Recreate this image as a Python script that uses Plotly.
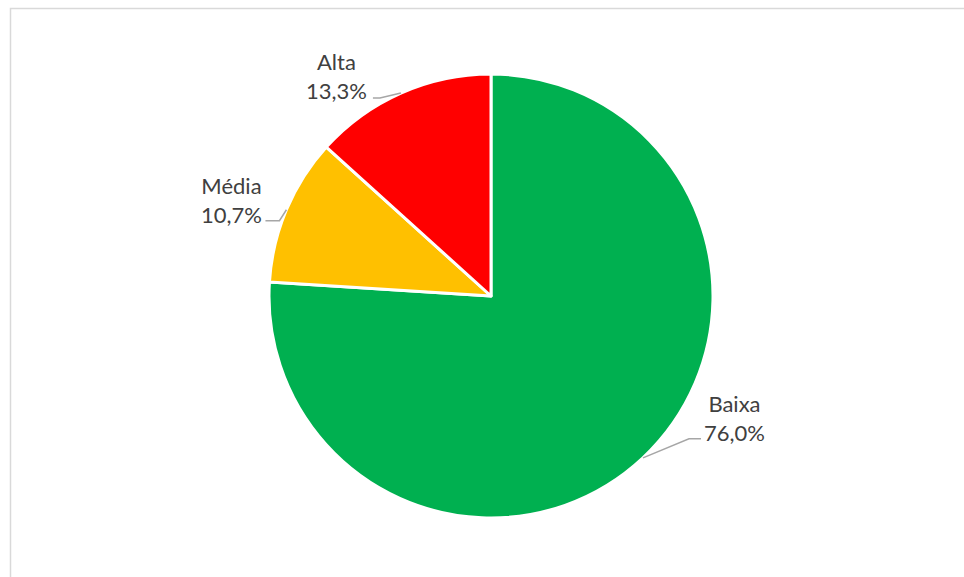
import math
import plotly.graph_objects as go

# ---- data ----
labels = ["Baixa", "Média", "Alta"]
values = [76.0, 10.7, 13.3]
colors = ["#00B050", "#FFC000", "#FF0000"]
pct_text = ["76,0%", "10,7%", "13,3%"]

W, H = 964, 577
CX, CY, R = 491, 296, 222

def px(x):
    return x / W

def py(y):
    return 1 - y / H

fig = go.Figure()
fig.add_trace(go.Pie(
    labels=labels, values=values, sort=False, direction="clockwise", rotation=0,
    marker=dict(colors=colors, line=dict(color="white", width=3)),
    textinfo="none", hoverinfo="label+percent", showlegend=False,
    domain=dict(x=[px(CX - R), px(CX + R)], y=[py(CY + R), py(CY - R)]),
))

# label layout offsets (elbow dx,dy from edge point; end dx; label center offset from end)
layout_offsets = {
    "Baixa": dict(elbow=(46, -19), end=12, label=(34, -21)),
    "Média": dict(elbow=(-7, 11), end=-14, label=(-34, -21)),
    "Alta": dict(elbow=(-21, 5), end=-7, label=(-36, -22)),
}

total = sum(values)
cum = 0.0
shapes = []
annotations = []
for lab, v, pt in zip(labels, values, pct_text):
    mid = (cum + v / 2) / total
    cum += v
    ang = 2 * math.pi * mid
    ex = CX + R * math.sin(ang)
    ey = CY - R * math.cos(ang)
    o = layout_offsets[lab]
    bx, by = ex + o["elbow"][0], ey + o["elbow"][1]
    tx = bx + o["end"]
    path = f"M {px(ex)},{py(ey)} L {px(bx)},{py(by)} L {px(tx)},{py(by)}"
    shapes.append(dict(type="path", xref="paper", yref="paper", path=path,
                       line=dict(color="#A6A6A6", width=1.5)))
    lx, ly = tx + o["label"][0], by + o["label"][1]
    annotations.append(dict(x=px(lx), y=py(ly), xref="paper", yref="paper",
                            text=f"{lab}<br>{pt}", showarrow=False, align="center",
                            xanchor="center", yanchor="middle",
                            font=dict(family="Lato", size=22, color="#404040")))

# chart-area border
shapes.append(dict(type="rect", xref="paper", yref="paper",
                   x0=px(10.5), x1=px(W + 20), y0=py(H + 20), y1=py(8.5),
                   line=dict(color="#D9D9D9", width=1.5), fillcolor="rgba(0,0,0,0)"))

fig.update_layout(
    width=W, height=H, margin=dict(l=0, r=0, t=0, b=0),
    paper_bgcolor="white", plot_bgcolor="white",
    shapes=shapes, annotations=annotations,
)

fig.write_html("out.html")
